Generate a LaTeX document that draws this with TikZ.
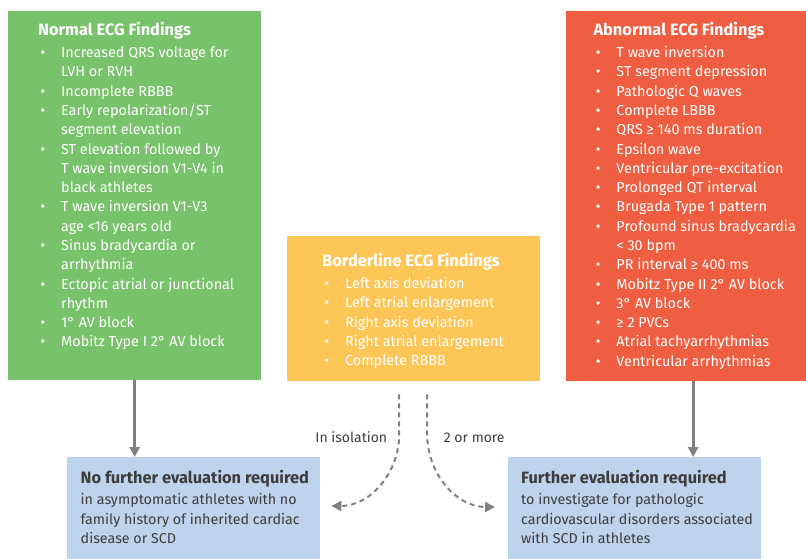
\documentclass[tikz,border=0pt]{standalone}
\usepackage{fontspec}
\setmainfont{Fira Sans}
\usetikzlibrary{arrows.meta}
\definecolor{normalgreen}{RGB}{120,194,107}
\definecolor{borderyellow}{RGB}{254,198,87}
\definecolor{abnormalred}{RGB}{240,94,66}
\definecolor{evalblue}{RGB}{190,212,237}
\definecolor{arrowgray}{RGB}{128,128,128}
\definecolor{textgray}{RGB}{60,60,60}
% one bullet line of a findings box
\newcommand{\finding}[1]{\par\hangindent=23pt\hangafter=1\noindent\makebox[23pt][l]{\hspace{2.4pt}\textbullet}#1}
% box heading
\newcommand{\boxtitle}[1]{{\fontsize{16.4}{19.3}\selectfont\bfseries #1}}
\begin{document}
\begin{tikzpicture}[x=1pt,y=-1pt]
	\tikzstyle{findings}=[anchor=north west,inner sep=0pt,text=white,font=\fontsize{14.4}{19.3}\selectfont]
	\tikzstyle{evaluation}=[anchor=north west,inner sep=0pt,fill=evalblue,text=textgray,font=\fontsize{14.3}{19.2}\selectfont]
	\tikzstyle{solidarrow}=[draw=arrowgray,line width=3pt,-{Triangle[length=10pt,width=10pt]}]
	\tikzstyle{dashedarrow}=[draw=arrowgray,line width=2pt,dash pattern=on 5pt off 4pt,-{Triangle[length=10pt,width=10pt]}]
	\clip (0,0) rectangle (806,559);
	\node[findings,fill=normalgreen](normal) at (8,11){\parbox[c][369pt][t]{253pt}{\raggedright\leftskip=30pt
		\rule{0pt}{24pt}\boxtitle{Normal ECG Findings}\par\vspace{3pt}
		\finding{Increased QRS voltage for\newline LVH or RVH}
		\finding{Incomplete RBBB}
		\finding{Early repolarization/ST\newline segment elevation}
		\finding{ST elevation followed by\newline T wave inversion V1-V4 in\newline black athletes}
		\finding{T wave inversion V1-V3\newline age <16 years old}
		\finding{Sinus bradycardia or\newline arrhythmia}
		\finding{Ectopic atrial or junctional\newline rhythm}
		\finding{1° AV block}
		\finding{Mobitz Type I 2° AV block}\par}};
	\node[findings,fill=borderyellow](borderline) at (287,236){\parbox[c][145pt][t]{253pt}{\raggedright\leftskip=35pt
		\rule{0pt}{30pt}\boxtitle{Borderline ECG Findings}\par\vspace{3pt}
		\finding{Left axis deviation}
		\finding{Left atrial enlargement}
		\finding{Right axis deviation}
		\finding{Right atrial enlargement}
		\finding{Complete RBBB}\par}};
	\node[findings,fill=abnormalred](abnormal) at (566,11){\parbox[c][370pt][t]{254pt}{\raggedright\leftskip=27.3pt
		\rule{0pt}{24pt}\boxtitle{Abnormal ECG Findings}\par\vspace{3pt}
		\finding{T wave inversion}
		\finding{ST segment depression}
		\finding{Pathologic Q waves}
		\finding{Complete LBBB}
		\finding{QRS ≥ 140 ms duration}
		\finding{Epsilon wave}
		\finding{Ventricular pre-excitation}
		\finding{Prolonged QT interval}
		\finding{Brugada Type 1 pattern}
		\finding{Profound sinus bradycardia\newline < 30 bpm}
		\finding{PR interval ≥ 400 ms}
		\finding{Mobitz Type II 2° AV block}
		\finding{3° AV block}
		\finding{≥ 2 PVCs}
		\finding{Atrial tachyarrhythmias}
		\finding{Ventricular arrhythmias}\par}};
	\node[evaluation](noeval) at (67,457){\parbox[c][110pt][t]{253pt}{\raggedright\leftskip=13.5pt
		\rule{0pt}{26pt}\boxtitle{No further evaluation required}\par\vspace{2.5pt}
		in asymptomatic athletes with no\newline family history of inherited cardiac\newline disease or SCD\par}};
	\node[evaluation](furthereval) at (508,457){\parbox[c][110pt][t]{253pt}{\raggedright\leftskip=13pt
		\rule{0pt}{26pt}\boxtitle{Further evaluation required}\par\vspace{2.5pt}
		to investigate for pathologic\newline cardiovascular disorders associated\newline with SCD in athletes\par}};
	\coordinate (isolstart) at ([xshift=-14.5pt,yshift=-13pt]borderline.south);
	\coordinate (morestart) at ([xshift=13.5pt,yshift=-13pt]borderline.south);
	\node[anchor=base,text=textgray,font=\fontsize{14}{16}\selectfont](isolabel) at (351.3,442.7){In isolation};
	\node[anchor=base,text=textgray,font=\fontsize{14}{16}\selectfont](morelabel) at (474.2,442.7){2 or more};
	\draw[solidarrow] (normal.south) -- (normal.south |- noeval.north);
	\draw[solidarrow] (abnormal.south) -- (abnormal.south |- furthereval.north);
	\draw[dashedarrow] (isolstart) -- ++(0,40) to[out=-90,in=0] ([xshift=11pt]noeval.east |- 0,506);
	\draw[dashedarrow] (morestart) -- ++(0,40) to[out=-90,in=180] ([xshift=-13pt]furthereval.west |- 0,507);
\end{tikzpicture}
\end{document}
